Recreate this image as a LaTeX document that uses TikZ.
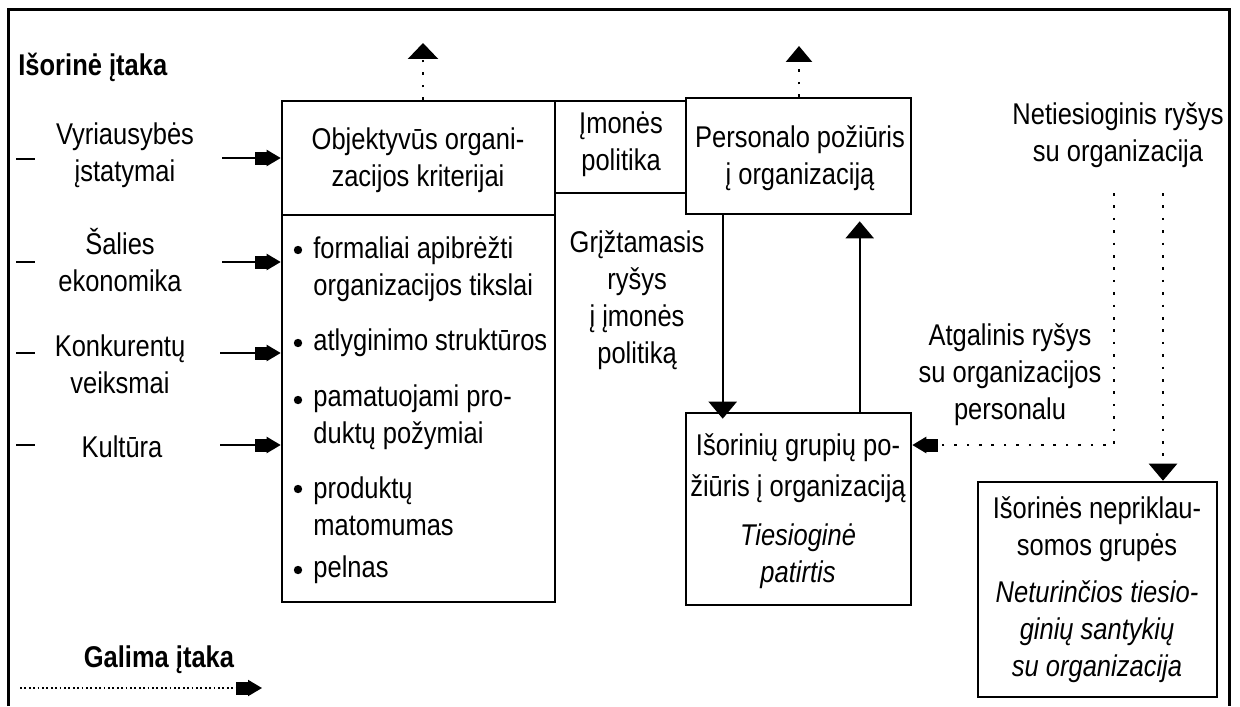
\documentclass[tikz,border=0pt]{standalone}
\usepackage{fontspec}
\setmainfont{Liberation Sans}[FakeStretch=0.85]
\usetikzlibrary{arrows.meta,fit}

\begin{document}
\begin{tikzpicture}[x=0.5pt,y=-0.5pt,
  every node/.style={font=\fontsize{15}{18.5}\selectfont, inner sep=0pt},
  box/.style={draw, line width=1.3pt, inner sep=0pt},
  txt/.style={align=center},
  it/.style={font=\fontsize{15}{18.5}\selectfont\itshape},
  heavy/.style={font=\fontsize{15}{18.5}\selectfont\bfseries},
  dot/.style={circle, fill, minimum size=4.2pt},
  frame/.style={line width=1.5pt},
  tick/.style={line width=1pt},
  flowhead/.tip={Square[length=6pt,width=6.5pt]Triangle[length=7pt,width=8pt]},
  bighead/.tip={Triangle[length=8.5pt,width=14pt]},
  flow/.style={line width=1.1pt, -flowhead},
  solidarrow/.style={line width=1.1pt, -bighead},
  dots/.style={line width=1.3pt, dash pattern=on 1.3pt off 4.9pt},
  finedots/.style={line width=1pt, dash pattern=on 0.9pt off 1.3pt}
]
\useasboundingbox (0,0) rectangle (1240,706);

% outer frame, open at the bottom
\draw[frame] (8,706) -- (8,10) -- (1229,10) -- (1229,706);

% boxes
\node[box, fit={(282,101) (555,602)}] (crit) {};
\coordinate (cut) at (282,215);
\draw[box] (cut) -- (cut -| crit.east);
\node[box, fit={(555,101) (686,193)}] (pol) {};
\node[box, fit={(686,98) (911,214)}] (pers) {};
\node[box, fit={(686,413) (911,605)}] (ext) {};
\node[box, fit={(978,482) (1217,697)}] (indep) {};

% box texts
\node[txt] (critT) at (418,160) {Objektyvūs organi-\\zacijos kriterijai};
\node[txt] (polT) at (621,144) {Įmonės\\politika};
\node[txt] (persT) at (800,158) {Personalo požiūris\\į organizaciją};
\node[txt, font=\fontsize{15}{20.5}\selectfont] (extT) at (798,468) {Išorinių grupių po-\\žiūris į organizaciją};
\node[txt, it] (extI) at (798,556) {Tiesioginė\\patirtis};
\node[txt] (indT) at (1097,529) {Išorinės nepriklau-\\somos grupės};
\node[txt, it] (indI) at (1097,632) {Neturinčios tiesio-\\ginių santykių\\su organizacija};

% criteria list
\node[dot] (d1) at (298,250) {};
\node[anchor=west, align=left] (c1) at (313,269) {formaliai apibrėžti\\organizacijos tikslai};
\node[dot] (d2) at (298,343) {};
\node[anchor=west] (c2) at (313,343) {atlyginimo struktūros};
\node[dot] (d3) at (298,400) {};
\node[anchor=west, align=left] (c3) at (313,417) {pamatuojami pro-\\duktų požymiai};
\node[dot] (d4) at (298,489) {};
\node[anchor=west, align=left] (c4) at (313,506) {produktų\\matomumas};
\node[dot] (d5) at (298,570) {};
\node[anchor=west] (c5) at (313,570) {pelnas};

% free labels
\node[txt] (fb) at (637,300) {Grįžtamasis\\ryšys\\į įmonės\\politiką};
\node[txt] (indirect) at (1118,135) {Netiesioginis ryšys\\su organizacija};
\node[txt] (back) at (1010,375) {Atgalinis ryšys\\su organizacijos\\personalu};

% external influences
\node[heavy, anchor=west] (outer) at (18,67) {Išorinė įtaka};
\node[txt] (gov) at (125,155) {Vyriausybės\\įstatymai};
\node[txt] (econ) at (120,260) {Šalies\\ekonomika};
\node[txt] (comp) at (120,364) {Konkurentų\\veiksmai};
\node[txt] (cult) at (122,447) {Kultūra};

\draw[tick] (16,159) -- (35,159);
\draw[tick] (16,262) -- (35,262);
\draw[tick] (16,353) -- (35,353);
\draw[tick] (16,445) -- (35,445);

\coordinate (s1) at (222,158);
\coordinate (s2) at (222,262);
\coordinate (s3) at (220,353);
\coordinate (s4) at (220,445);
\draw[flow] (s1) -- (s1 -| crit.west);
\draw[flow] (s2) -- (s2 -| crit.west);
\draw[flow] (s3) -- (s3 -| crit.west);
\draw[flow] (s4) -- (s4 -| crit.west);

% dotted arrows leaving the top
\coordinate (up1) at (423,43);
\coordinate (up2) at (799,46);
\draw[dots, -{Triangle[length=8pt,width=15pt]}] (up1 |- crit.north) -- (up1);
\draw[dots, -{Triangle[length=8pt,width=13pt]}] (up2 |- pers.north) -- (up2);

% loop between personnel and external groups
\draw[solidarrow] ([shift={(38,0)}]pers.south west) -- ([shift={(38,7)}]ext.north west);
\draw[solidarrow] ([shift={(175,0)}]ext.north west) -- ([shift={(175,6)}]pers.south west);

% indirect links
\coordinate (n1) at (1114,193);
\coordinate (n2) at (1163,193);
\draw[dots, -flowhead] (n1) |- ([shift={(0,-64)}]ext.east);
\draw[dots, -bighead] (n2) -- (n2 |- indep.north);

% legend
\node[heavy] (poss) at (159,660) {Galima įtaka};
\coordinate (g1) at (20,688);
\coordinate (g2) at (262,688);
\draw[finedots, -flowhead] (g1) -- (g2);
\end{tikzpicture}
\end{document}
